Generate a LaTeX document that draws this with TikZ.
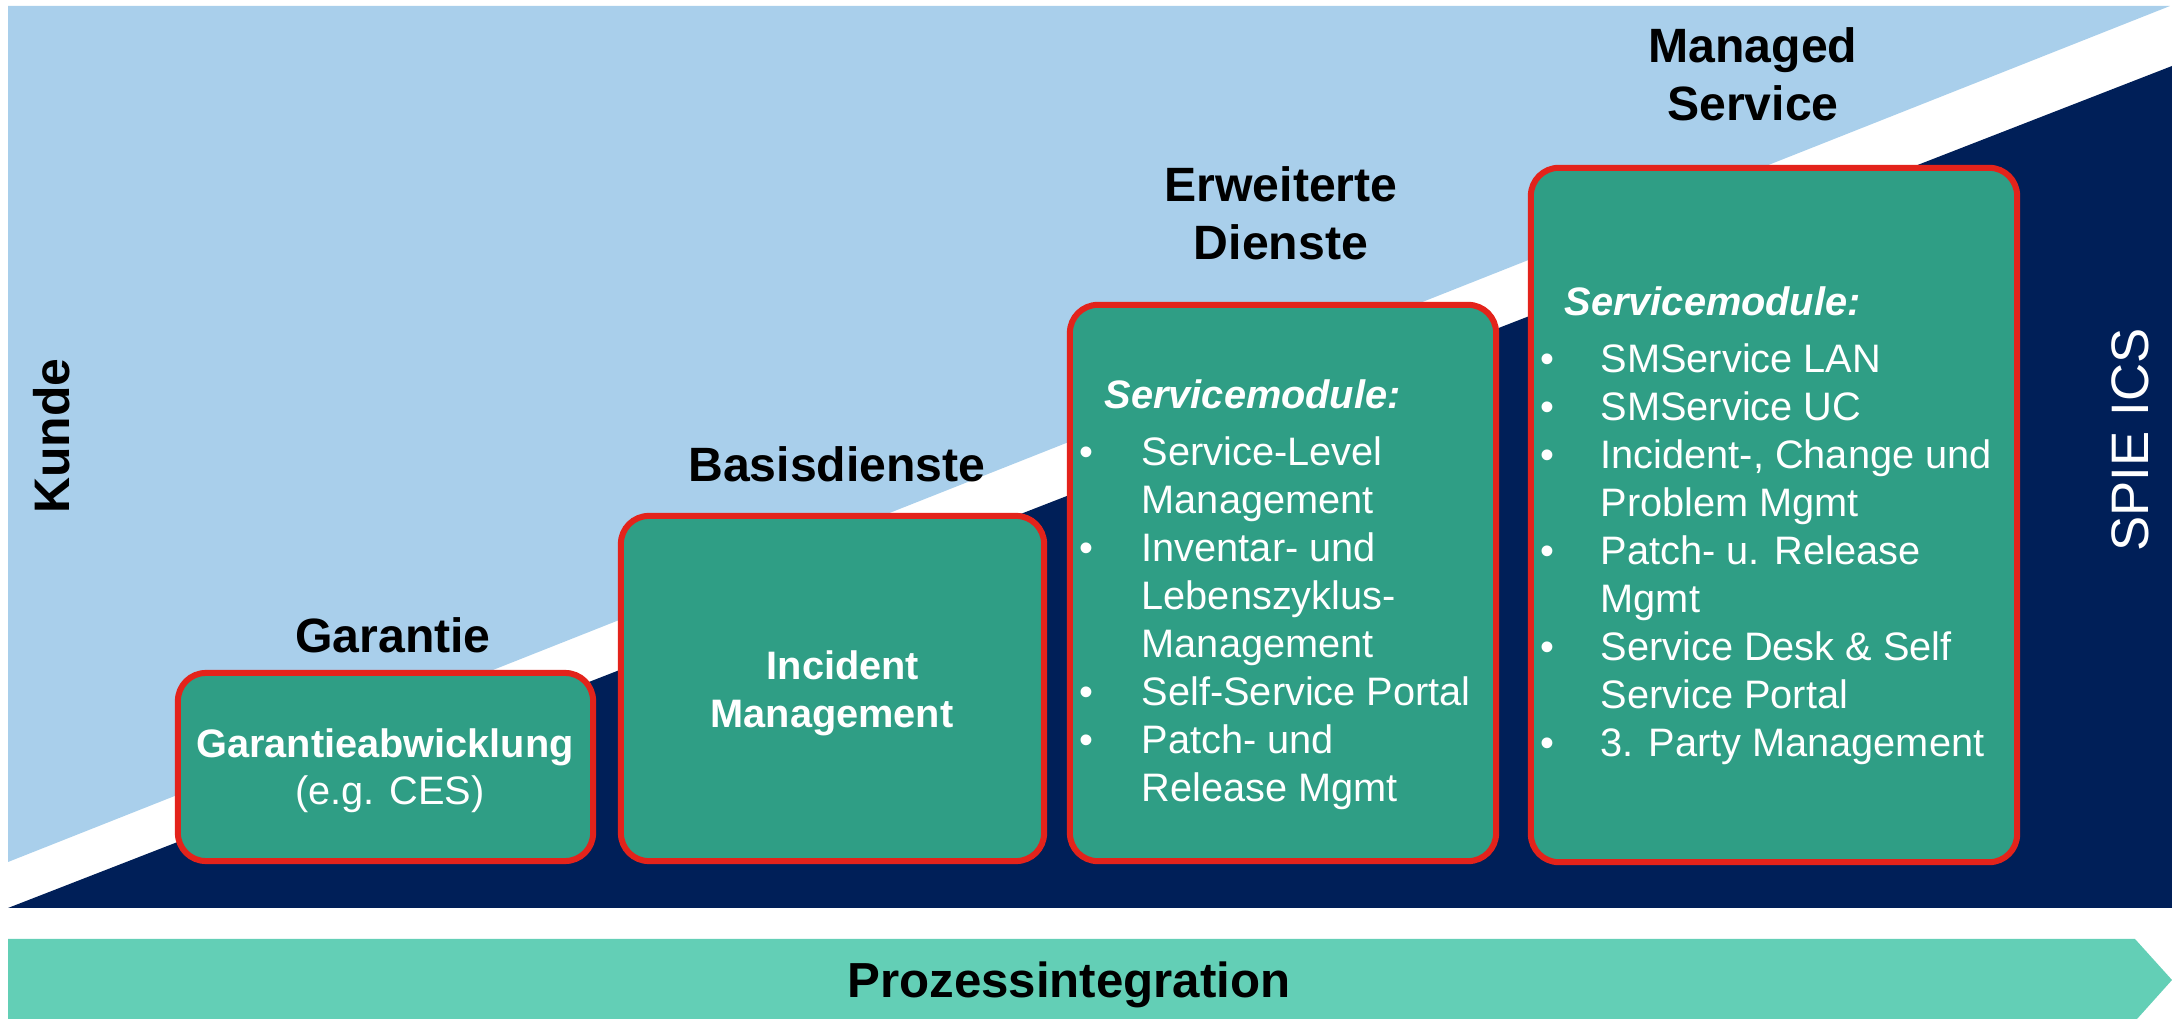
\documentclass[tikz,border=0pt]{standalone}
\usepackage{fontspec}
\setmainfont{Liberation Sans}
\definecolor{skyblue}{RGB}{169,207,235}
\definecolor{navyblue}{RGB}{0,31,88}
\definecolor{boxteal}{RGB}{47,158,133}
\definecolor{boxred}{RGB}{227,35,27}
\definecolor{mintgreen}{RGB}{99,207,182}
\begin{document}
\begin{tikzpicture}[x=0.01cm,y=-0.01cm,
  stagebox/.style={rectangle, rounded corners=0.28cm, draw=boxred, line width=0.06cm, fill=boxteal, inner sep=0pt, outer sep=0pt},
  heading/.style={font=\fontsize{13.7pt}{16pt}\selectfont\bfseries, text=black, inner sep=0pt, anchor=base},
  boxbold/.style={font=\fontsize{11.3pt}{13.6pt}\selectfont\bfseries, text=white, inner sep=0pt, anchor=base},
  boxplain/.style={font=\fontsize{11.3pt}{13.6pt}\selectfont, text=white, inner sep=0pt, anchor=base},
  boxtext/.style={font=\fontsize{11.3pt}{13.6pt}\selectfont, text=white, inner sep=0pt, anchor=base west},
  bulletmark/.style={font=\fontsize{11.3pt}{13.6pt}\selectfont, text=white, inner sep=0pt, anchor=base},
  modhead/.style={font=\fontsize{11.3pt}{13.6pt}\selectfont\bfseries\itshape, text=white, inner sep=0pt, anchor=base west},
]
\useasboundingbox (0,0) rectangle (2172,1019);
% background areas
\fill[skyblue] (8,6) -- (2170,6) -- (8,862) -- cycle;
\fill[navyblue] (8,908) -- (2172,66) -- (2172,908) -- cycle;
\fill[mintgreen] (8,939) -- (2135,939) -- (2172,980) -- (2137,1019) -- (8,1019) -- cycle;

% stage boxes
\node[stagebox, minimum width=4.15cm, minimum height=1.88cm] (box1) at (385.5,767) {};
\node[stagebox, minimum width=4.23cm, minimum height=3.45cm] (box2) at (832.5,688.5) {};
\node[stagebox, minimum width=4.26cm, minimum height=5.56cm] (box3) at (1283,583) {};
\node[stagebox, minimum width=4.86cm, minimum height=6.94cm] (box4) at (1774,515) {};

% headings
\node[heading] (garantie) at (393,653) {Garantie};
\node[heading] (basis) at (837,482) {Basisdienste};
\node[heading] (erw1) at (1281,202) {Erweiterte};
\node[heading] (erw2) at (1281,260) {Dienste};
\node[heading] (man1) at (1753,63) {Managed};
\node[heading] (man2) at (1753,121) {Service};
\node[heading, font=\fontsize{14pt}{16pt}\selectfont\bfseries] (prozess) at (1069,998) {Prozessintegration};
\node[heading, font=\fontsize{14.2pt}{16pt}\selectfont\bfseries, rotate=90] (kunde) at (70,436) {Kunde};
\node[font=\fontsize{15pt}{18pt}\selectfont, text=white, inner sep=0pt, anchor=base, rotate=90] (spie) at (2148,440) {SPIE ICS};

% box 1
\node[boxbold] (g1) at (385,758) {Garantieabwicklung};
\node[boxplain] (g2) at (390,805) {(e.g. CES)};

% box 2
\node[boxbold] (i1) at (843,680) {Incident};
\node[boxbold] (i2) at (832,728) {Management};

% box 3
\node[modhead] (emod) at (1104,409) {Servicemodule:};
\foreach \ly/\lt [count=\i] in {466/Service-Level,514/Management,562/Inventar- und,610/Lebenszyklus-,658/Management,706/Self-Service Portal,754/Patch- und,802/Release Mgmt}
  \node[boxtext] (e\i) at (1141,\ly) {\lt};
\foreach \ly [count=\i] in {466,562,706,754}
  \node[bulletmark] (eb\i) at (1086,\ly) {•};

% box 4
\node[modhead] (mmod) at (1564,316) {Servicemodule:};
\foreach \ly/\lt [count=\i] in {373/SMService LAN,421/SMService UC,469/{Incident-, Change und},517/Problem Mgmt,565/Patch- u. Release,613/Mgmt,661/Service Desk \& Self,709/Service Portal,757/3. Party Management}
  \node[boxtext] (m\i) at (1600,\ly) {\lt};
\foreach \ly [count=\i] in {373,421,469,565,661,757}
  \node[bulletmark] (mb\i) at (1547,\ly) {•};
\end{tikzpicture}
\end{document}
